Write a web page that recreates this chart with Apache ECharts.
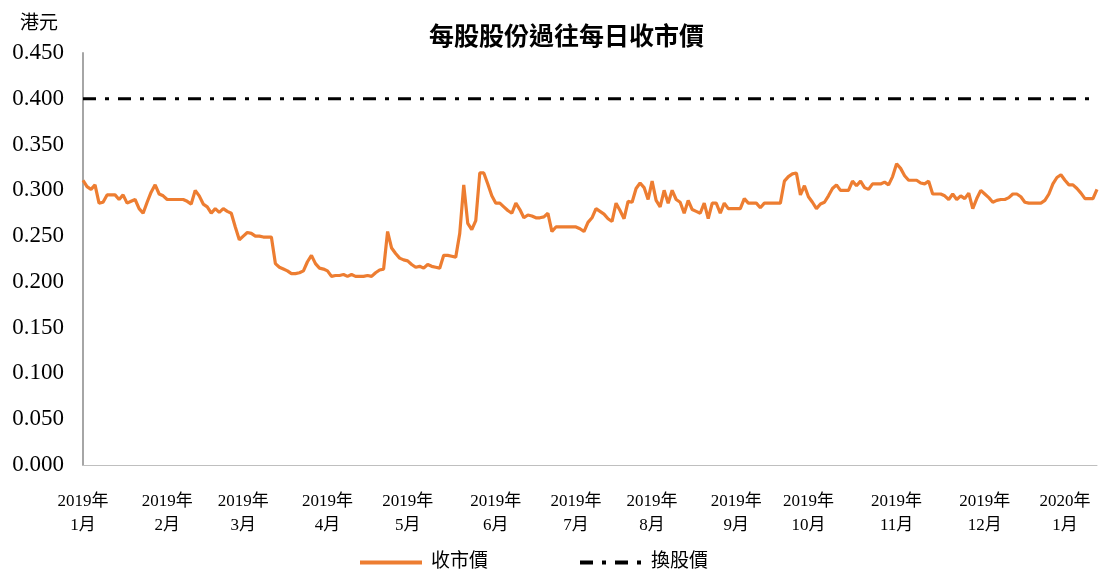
<!DOCTYPE html>
<html>
<head>
<meta charset="utf-8">
<script src="https://cdn.jsdelivr.net/npm/echarts@6/dist/echarts.min.js"></script>
<style>
  html, body { margin: 0; padding: 0; background: #fff; }
  #chart { width: 1099px; height: 572px; }
</style>
</head>
<body>
<div id="chart"></div>
<script>
// month labels and number of trading days plotted in each month
const monthLabels = ['2019年\n1月', '2019年\n2月', '2019年\n3月', '2019年\n4月', '2019年\n5月', '2019年\n6月',
  '2019年\n7月', '2019年\n8月', '2019年\n9月', '2019年\n10月', '2019年\n11月', '2019年\n12月', '2020年\n1月'];
const daysInMonth = [21, 19, 21, 20, 22, 20, 19, 21, 18, 22, 22, 20, 9];

// daily closing price (HK$)
const closePrice = [
  // Jan
  0.311, 0.304, 0.301, 0.306, 0.286, 0.287, 0.295, 0.295, 0.295, 0.290, 0.295, 0.286, 0.288, 0.290, 0.280, 0.275, 0.287, 0.298, 0.306, 0.296, 0.294,
  // Feb
  0.290, 0.290, 0.290, 0.290, 0.290, 0.288, 0.285, 0.300, 0.294, 0.285, 0.282, 0.275, 0.280, 0.276, 0.280, 0.277, 0.275, 0.260, 0.246,
  // Mar
  0.250, 0.254, 0.253, 0.250, 0.250, 0.249, 0.249, 0.249, 0.220, 0.216, 0.214, 0.212, 0.209, 0.209, 0.210, 0.212, 0.222, 0.229, 0.220, 0.215, 0.214,
  // Apr
  0.212, 0.206, 0.207, 0.207, 0.208, 0.206, 0.208, 0.206, 0.206, 0.206, 0.207, 0.206, 0.210, 0.213, 0.214, 0.255, 0.237, 0.231, 0.226, 0.224,
  // May
  0.223, 0.219, 0.216, 0.217, 0.215, 0.219, 0.217, 0.216, 0.215, 0.229, 0.229, 0.228, 0.227, 0.253, 0.306, 0.264, 0.257, 0.267, 0.319, 0.319, 0.307, 0.294,
  // Jun
  0.286, 0.286, 0.282, 0.278, 0.275, 0.286, 0.279, 0.270, 0.273, 0.272, 0.270, 0.270, 0.271, 0.275, 0.255, 0.260, 0.260, 0.260, 0.260, 0.260,
  // Jul
  0.260, 0.258, 0.255, 0.265, 0.270, 0.280, 0.277, 0.274, 0.269, 0.266, 0.286, 0.278, 0.269, 0.288, 0.287, 0.302, 0.308, 0.303, 0.290,
  // Aug
  0.310, 0.289, 0.282, 0.300, 0.286, 0.300, 0.290, 0.287, 0.275, 0.289, 0.279, 0.277, 0.275, 0.286, 0.269, 0.286, 0.286, 0.275, 0.286, 0.280, 0.280,
  // Sep
  0.280, 0.280, 0.291, 0.286, 0.286, 0.286, 0.281, 0.286, 0.286, 0.286, 0.286, 0.286, 0.310, 0.315, 0.318, 0.319, 0.295, 0.305,
  // Oct
  0.293, 0.287, 0.280, 0.285, 0.287, 0.294, 0.302, 0.306, 0.300, 0.300, 0.300, 0.310, 0.305, 0.310, 0.303, 0.301, 0.307, 0.307, 0.307, 0.309, 0.306, 0.315,
  // Nov
  0.329, 0.324, 0.316, 0.311, 0.311, 0.311, 0.308, 0.307, 0.310, 0.296, 0.296, 0.296, 0.294, 0.290, 0.296, 0.290, 0.294, 0.291, 0.297, 0.280, 0.291, 0.300,
  // Dec
  0.296, 0.292, 0.287, 0.289, 0.290, 0.290, 0.292, 0.296, 0.296, 0.293, 0.287, 0.286, 0.286, 0.286, 0.286, 0.289, 0.296, 0.307, 0.314, 0.317,
  // Jan 2020
  0.311, 0.306, 0.306, 0.302, 0.297, 0.291, 0.291, 0.291, 0.301
];

const conversionPrice = 0.400;
const yMin = 0, yMax = 0.45, yStep = 0.05;

// one category per trading day, tagged with its month label
const categories = [];
monthLabels.forEach((m, k) => {
  for (let d = 0; d < daysInMonth[k]; d++) categories.push(m + '|' + d);
});

const serif = "'Liberation Serif', 'Times New Roman', 'Noto Sans CJK TC', serif";

const chart = echarts.init(document.getElementById('chart'));
chart.setOption({
  animation: false,
  title: {
    text: '每股股份過往每日收市價',
    left: 424,
    top: 21,
    textStyle: { fontFamily: serif, fontSize: 25, fontWeight: 'bold', color: '#000' }
  },
  graphic: [{
    type: 'text',
    left: 20,
    top: 15,
    style: { text: '港元', font: "19px " + serif, fill: '#000' }
  }],
  legend: {
    left: 353,
    top: 548,
    itemWidth: 62,
    itemHeight: 14,
    itemGap: 90,
    itemStyle: { opacity: 0 },
    lineStyle: { width: 4 },
    textStyle: { fontFamily: serif, fontSize: 19, color: '#000', padding: [0, 0, 0, 4] },
    data: ['收市價', '換股價']
  },
  grid: { left: 83, right: 2, top: 53, bottom: 107, containLabel: false },
  xAxis: {
    type: 'category',
    boundaryGap: false,
    data: categories,
    axisLine: { lineStyle: { color: '#BFBFBF', width: 1 } },
    axisTick: { show: false },
    axisLabel: {
      interval: (idx, val) => val.endsWith('|0'),
      formatter: val => val.split('|')[0],
      fontFamily: serif,
      fontSize: 17,
      lineHeight: 24,
      color: '#000',
      margin: 25
    },
    splitLine: { show: false }
  },
  yAxis: {
    type: 'value',
    min: yMin,
    max: yMax,
    interval: yStep,
    axisLine: { show: true, lineStyle: { color: '#A6A6A6', width: 2 } },
    axisTick: { show: false },
    splitLine: { show: false },
    axisLabel: {
      formatter: v => v.toFixed(3),
      fontFamily: serif,
      fontSize: 23,
      color: '#000',
      margin: 19
    }
  },
  series: [
    {
      name: '收市價',
      type: 'line',
      data: closePrice,
      showSymbol: false,
      symbol: 'none',
      lineStyle: { color: '#ED7D31', width: 3.2 },
      itemStyle: { color: '#ED7D31' }
    },
    {
      name: '換股價',
      type: 'line',
      data: [[0, conversionPrice], [categories.length - 1, conversionPrice]],
      showSymbol: false,
      symbol: 'none',
      lineStyle: { color: '#000', width: 3, type: [13, 9, 4, 9] },
      itemStyle: { color: '#000' }
    }
  ]
});
</script>
</body>
</html>
